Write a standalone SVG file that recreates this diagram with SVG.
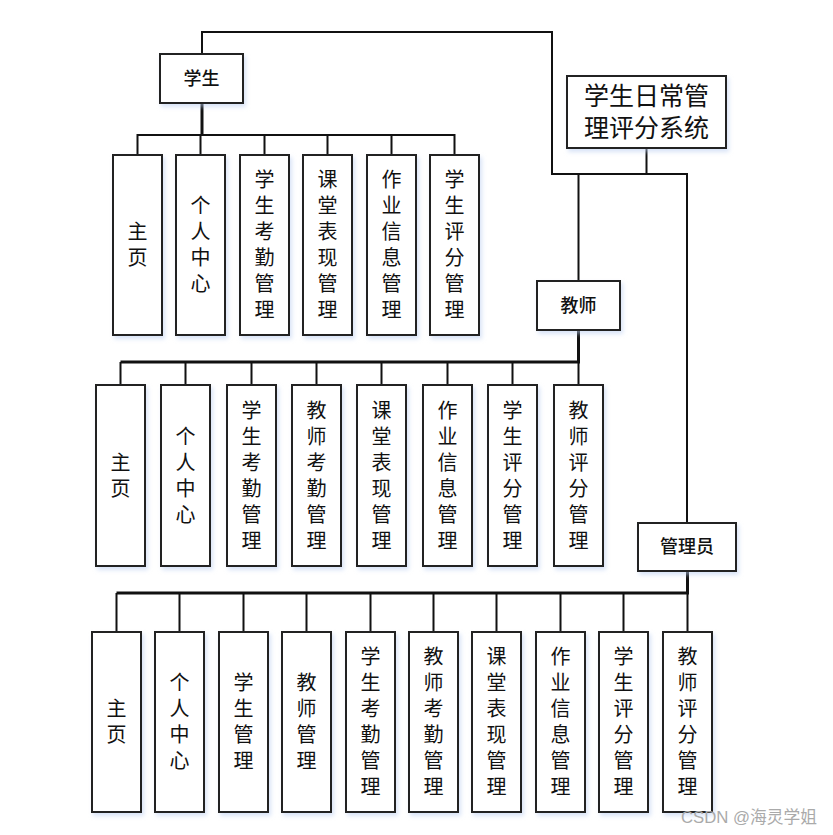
<svg xmlns="http://www.w3.org/2000/svg" width="833" height="835" viewBox="0 0 833 835">
<defs>
<filter id="sh" x="-20%" y="-10%" width="150%" height="130%">
<feDropShadow dx="2" dy="3" stdDeviation="2" flood-color="#b9cdf0" flood-opacity="0.55"/>
</filter>
</defs>
<style>
.box{fill:#fff;stroke:#222;stroke-width:2;filter:url(#sh)}
.t{font-family:"Liberation Sans","Noto Sans CJK SC",sans-serif;font-size:20px;fill:#111;text-anchor:middle;dominant-baseline:central}
.h{font-family:"Liberation Sans","Noto Sans CJK SC",sans-serif;font-size:18px;font-weight:500;fill:#111;text-anchor:middle;dominant-baseline:central}
.r{font-family:"Liberation Sans","Noto Sans CJK SC",sans-serif;font-size:25px;fill:#111;text-anchor:middle;dominant-baseline:central}
.c{fill:none;stroke:#111;stroke-width:2}
.b{fill:none;stroke:#111;stroke-width:3}
.wm{font-family:"Liberation Sans","Noto Sans CJK SC",sans-serif;font-size:16.5px;fill:#aaa}
</style>
<rect width="833" height="835" fill="#fff"/>
<g id="connectors">
<path class="c" d="M202,54 V32 H552 V174 H687 V523"/>
<path class="c" d="M646.5,148 V174"/>
<path class="c" d="M578.5,174 V281"/>
<path class="b" d="M202,103 V135"/>
<path class="c" d="M137.5,155 V135 H454.5 V155 M200.5,135 V155 M264.5,135 V155 M327.5,135 V155 M391.5,135 V155"/>
<path class="b" d="M578.5,330 V362 H120.5"/>
<path class="c" d="M120.5,385 V362 M578.5,362 V385 M185.5,362 V385 M251.5,362 V385 M316.5,362 V385 M381.5,362 V385 M447.5,362 V385 M512.5,362 V385"/>
<path class="b" d="M687.5,571 V593 H116.5"/>
<path class="c" d="M116.5,632 V593 M687.5,593 V632 M179.5,593 V632 M243.5,593 V632 M306.5,593 V632 M370.5,593 V632 M433.5,593 V632 M496.5,593 V632 M560.5,593 V632 M623.5,593 V632"/>
</g>
<g id="root">
<rect class="box" x="567" y="76" width="159" height="72"/>
<text class="r" x="646.5" y="96">学生日常管</text>
<text class="r" x="646.5" y="128">理评分系统</text>
</g>
<g id="student">
<rect class="box" x="160" y="54" width="83" height="49"/>
<text class="h" x="201.5" y="78.5">学生</text>
</g>
<g id="teacher">
<rect class="box" x="537" y="281" width="83" height="49"/>
<text class="h" x="578.5" y="305.5">教师</text>
</g>
<g id="admin">
<rect class="box" x="638" y="523" width="98" height="48"/>
<text class="h" x="687" y="547">管理员</text>
</g>
<g id="s1"><rect class="box" x="113" y="155" width="49" height="180"/><text class="t"><tspan x="137.5" y="232">主</tspan><tspan x="137.5" y="258">页</tspan></text></g>
<g id="s2"><rect class="box" x="176" y="155" width="49" height="180"/><text class="t"><tspan x="200.5" y="206">个</tspan><tspan x="200.5" y="232">人</tspan><tspan x="200.5" y="258">中</tspan><tspan x="200.5" y="284">心</tspan></text></g>
<g id="s3"><rect class="box" x="240" y="155" width="49" height="180"/><text class="t"><tspan x="264.5" y="180">学</tspan><tspan x="264.5" y="206">生</tspan><tspan x="264.5" y="232">考</tspan><tspan x="264.5" y="258">勤</tspan><tspan x="264.5" y="284">管</tspan><tspan x="264.5" y="310">理</tspan></text></g>
<g id="s4"><rect class="box" x="303" y="155" width="49" height="180"/><text class="t"><tspan x="327.5" y="180">课</tspan><tspan x="327.5" y="206">堂</tspan><tspan x="327.5" y="232">表</tspan><tspan x="327.5" y="258">现</tspan><tspan x="327.5" y="284">管</tspan><tspan x="327.5" y="310">理</tspan></text></g>
<g id="s5"><rect class="box" x="367" y="155" width="49" height="180"/><text class="t"><tspan x="391.5" y="180">作</tspan><tspan x="391.5" y="206">业</tspan><tspan x="391.5" y="232">信</tspan><tspan x="391.5" y="258">息</tspan><tspan x="391.5" y="284">管</tspan><tspan x="391.5" y="310">理</tspan></text></g>
<g id="s6"><rect class="box" x="430" y="155" width="49" height="180"/><text class="t"><tspan x="454.5" y="180">学</tspan><tspan x="454.5" y="206">生</tspan><tspan x="454.5" y="232">评</tspan><tspan x="454.5" y="258">分</tspan><tspan x="454.5" y="284">管</tspan><tspan x="454.5" y="310">理</tspan></text></g>
<g id="t1"><rect class="box" x="96" y="385" width="49" height="181"/><text class="t"><tspan x="120.5" y="462.5">主</tspan><tspan x="120.5" y="488.5">页</tspan></text></g>
<g id="t2"><rect class="box" x="161" y="385" width="49" height="181"/><text class="t"><tspan x="185.5" y="436.5">个</tspan><tspan x="185.5" y="462.5">人</tspan><tspan x="185.5" y="488.5">中</tspan><tspan x="185.5" y="514.5">心</tspan></text></g>
<g id="t3"><rect class="box" x="227" y="385" width="49" height="181"/><text class="t"><tspan x="251.5" y="410.5">学</tspan><tspan x="251.5" y="436.5">生</tspan><tspan x="251.5" y="462.5">考</tspan><tspan x="251.5" y="488.5">勤</tspan><tspan x="251.5" y="514.5">管</tspan><tspan x="251.5" y="540.5">理</tspan></text></g>
<g id="t4"><rect class="box" x="292" y="385" width="49" height="181"/><text class="t"><tspan x="316.5" y="410.5">教</tspan><tspan x="316.5" y="436.5">师</tspan><tspan x="316.5" y="462.5">考</tspan><tspan x="316.5" y="488.5">勤</tspan><tspan x="316.5" y="514.5">管</tspan><tspan x="316.5" y="540.5">理</tspan></text></g>
<g id="t5"><rect class="box" x="357" y="385" width="49" height="181"/><text class="t"><tspan x="381.5" y="410.5">课</tspan><tspan x="381.5" y="436.5">堂</tspan><tspan x="381.5" y="462.5">表</tspan><tspan x="381.5" y="488.5">现</tspan><tspan x="381.5" y="514.5">管</tspan><tspan x="381.5" y="540.5">理</tspan></text></g>
<g id="t6"><rect class="box" x="423" y="385" width="49" height="181"/><text class="t"><tspan x="447.5" y="410.5">作</tspan><tspan x="447.5" y="436.5">业</tspan><tspan x="447.5" y="462.5">信</tspan><tspan x="447.5" y="488.5">息</tspan><tspan x="447.5" y="514.5">管</tspan><tspan x="447.5" y="540.5">理</tspan></text></g>
<g id="t7"><rect class="box" x="488" y="385" width="49" height="181"/><text class="t"><tspan x="512.5" y="410.5">学</tspan><tspan x="512.5" y="436.5">生</tspan><tspan x="512.5" y="462.5">评</tspan><tspan x="512.5" y="488.5">分</tspan><tspan x="512.5" y="514.5">管</tspan><tspan x="512.5" y="540.5">理</tspan></text></g>
<g id="t8"><rect class="box" x="554" y="385" width="49" height="181"/><text class="t"><tspan x="578.5" y="410.5">教</tspan><tspan x="578.5" y="436.5">师</tspan><tspan x="578.5" y="462.5">评</tspan><tspan x="578.5" y="488.5">分</tspan><tspan x="578.5" y="514.5">管</tspan><tspan x="578.5" y="540.5">理</tspan></text></g>
<g id="a1"><rect class="box" x="92" y="632" width="49" height="180"/><text class="t"><tspan x="116.5" y="709">主</tspan><tspan x="116.5" y="735">页</tspan></text></g>
<g id="a2"><rect class="box" x="155" y="632" width="49" height="180"/><text class="t"><tspan x="179.5" y="683">个</tspan><tspan x="179.5" y="709">人</tspan><tspan x="179.5" y="735">中</tspan><tspan x="179.5" y="761">心</tspan></text></g>
<g id="a3"><rect class="box" x="219" y="632" width="49" height="180"/><text class="t"><tspan x="243.5" y="683">学</tspan><tspan x="243.5" y="709">生</tspan><tspan x="243.5" y="735">管</tspan><tspan x="243.5" y="761">理</tspan></text></g>
<g id="a4"><rect class="box" x="282" y="632" width="49" height="180"/><text class="t"><tspan x="306.5" y="683">教</tspan><tspan x="306.5" y="709">师</tspan><tspan x="306.5" y="735">管</tspan><tspan x="306.5" y="761">理</tspan></text></g>
<g id="a5"><rect class="box" x="346" y="632" width="49" height="180"/><text class="t"><tspan x="370.5" y="657">学</tspan><tspan x="370.5" y="683">生</tspan><tspan x="370.5" y="709">考</tspan><tspan x="370.5" y="735">勤</tspan><tspan x="370.5" y="761">管</tspan><tspan x="370.5" y="787">理</tspan></text></g>
<g id="a6"><rect class="box" x="409" y="632" width="49" height="180"/><text class="t"><tspan x="433.5" y="657">教</tspan><tspan x="433.5" y="683">师</tspan><tspan x="433.5" y="709">考</tspan><tspan x="433.5" y="735">勤</tspan><tspan x="433.5" y="761">管</tspan><tspan x="433.5" y="787">理</tspan></text></g>
<g id="a7"><rect class="box" x="472" y="632" width="49" height="180"/><text class="t"><tspan x="496.5" y="657">课</tspan><tspan x="496.5" y="683">堂</tspan><tspan x="496.5" y="709">表</tspan><tspan x="496.5" y="735">现</tspan><tspan x="496.5" y="761">管</tspan><tspan x="496.5" y="787">理</tspan></text></g>
<g id="a8"><rect class="box" x="536" y="632" width="49" height="180"/><text class="t"><tspan x="560.5" y="657">作</tspan><tspan x="560.5" y="683">业</tspan><tspan x="560.5" y="709">信</tspan><tspan x="560.5" y="735">息</tspan><tspan x="560.5" y="761">管</tspan><tspan x="560.5" y="787">理</tspan></text></g>
<g id="a9"><rect class="box" x="599" y="632" width="49" height="180"/><text class="t"><tspan x="623.5" y="657">学</tspan><tspan x="623.5" y="683">生</tspan><tspan x="623.5" y="709">评</tspan><tspan x="623.5" y="735">分</tspan><tspan x="623.5" y="761">管</tspan><tspan x="623.5" y="787">理</tspan></text></g>
<g id="a10"><rect class="box" x="663" y="632" width="49" height="180"/><text class="t"><tspan x="687.5" y="657">教</tspan><tspan x="687.5" y="683">师</tspan><tspan x="687.5" y="709">评</tspan><tspan x="687.5" y="735">分</tspan><tspan x="687.5" y="761">管</tspan><tspan x="687.5" y="787">理</tspan></text></g>
<text class="wm" x="681" y="823" textLength="136" lengthAdjust="spacingAndGlyphs">CSDN @海灵学姐</text>
</svg>
